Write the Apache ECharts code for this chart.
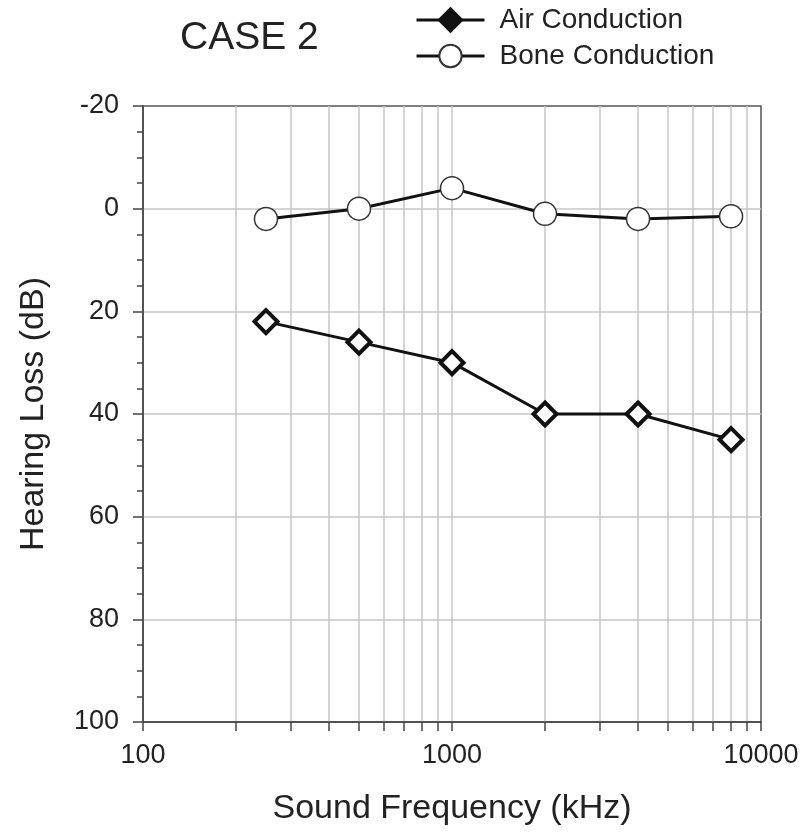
<!DOCTYPE html>
<html>
<head>
<meta charset="utf-8">
<script src="https://cdn.jsdelivr.net/npm/echarts@6/dist/echarts.min.js"></script>
<style>
  html, body { margin: 0; padding: 0; background: #fff; }
  #chart { width: 804px; height: 833px; }
</style>
</head>
<body>
<div id="chart"></div>
<script>
// dados
const frequencias = [250, 500, 1000, 2000, 4000, 8000];
const conducaoAerea = [22, 26, 30, 40, 40, 45];
const conducaoOssea = [2, 0, -4, 1, 2, 1.5];
const ticksX = [100, 200, 300, 400, 500, 600, 700, 800, 900, 1000,
    2000, 3000, 4000, 5000, 6000, 7000, 8000, 9000, 10000];
const rotulosX = [100, 1000, 10000];

const fonte = "'Liberation Sans', Arial, sans-serif";
const corTexto = "#222";

let grafico = echarts.init(document.getElementById("chart"));

let option = {
    backgroundColor: "#fff",
    animation: false,
    title: {
        text: "CASE 2",
        left: 180,
        top: 19,
        padding: 0,
        textStyle: { fontFamily: fonte, fontSize: 39, fontWeight: "normal", color: corTexto }
    },
    legend: {
        orient: "vertical",
        left: 415,
        top: 6,
        padding: 0,
        itemWidth: 68,
        itemHeight: 28,
        itemGap: 8,
        lineStyle: { width: 3, color: "#111" },
        textStyle: { fontFamily: fonte, fontSize: 28, color: corTexto, padding: [0, 0, 0, 10] },
        data: [
            { name: "Air Conduction", itemStyle: { color: "#111", borderColor: "#111", borderWidth: 3 } },
            { name: "Bone Conduction" }
        ]
    },
    grid: {
        left: 143,
        right: 43,
        top: 106,
        bottom: 111,
        show: true,
        borderColor: "#555",
        borderWidth: 1.5
    },
    xAxis: {
        type: "log",
        logBase: 10,
        min: 100,
        max: 10000,
        name: "Sound Frequency (kHz)",
        nameLocation: "middle",
        nameGap: 70,
        nameTextStyle: { fontFamily: fonte, fontSize: 34, color: corTexto },
        axisLine: { show: true, onZero: false, lineStyle: { color: "#444", width: 1.5 } },
        axisTick: { show: true, inside: false, length: 9, customValues: ticksX, lineStyle: { color: "#444", width: 1.5 } },
        axisLabel: {
            customValues: rotulosX,
            margin: 20,
            fontFamily: fonte,
            fontSize: 27,
            color: corTexto,
            formatter: v => String(v)
        },
        splitLine: { show: true, showMinLine: false, showMaxLine: false, lineStyle: { color: "#c6c6c6", width: 1.5 } }
    },
    yAxis: {
        type: "value",
        inverse: true,
        min: -20,
        max: 100,
        interval: 20,
        name: "Hearing Loss (dB)",
        nameLocation: "middle",
        nameGap: 92,
        nameTextStyle: { fontFamily: fonte, fontSize: 34, color: corTexto },
        axisLine: { show: true, lineStyle: { color: "#444", width: 1.5 } },
        axisTick: { show: true, length: 10, lineStyle: { color: "#444", width: 1.5 } },
        minorTick: { show: true, splitNumber: 4, length: 6, lineStyle: { color: "#444", width: 1.5 } },
        axisLabel: { margin: 24, fontFamily: fonte, fontSize: 27, color: corTexto },
        splitLine: { show: true, showMinLine: false, showMaxLine: false, lineStyle: { color: "#c6c6c6", width: 1.5 } }
    },
    series: [
        {
            name: "Air Conduction",
            type: "line",
            data: frequencias.map((f, i) => [f, conducaoAerea[i]]),
            symbol: "diamond",
            symbolSize: 23,
            itemStyle: { color: "#fff", borderColor: "#111", borderWidth: 4 },
            lineStyle: { color: "#111", width: 3 },
            z: 3
        },
        {
            name: "Bone Conduction",
            type: "line",
            data: frequencias.map((f, i) => [f, conducaoOssea[i]]),
            symbol: "circle",
            symbolSize: 23,
            itemStyle: { color: "#fff", borderColor: "#333", borderWidth: 1.5 },
            lineStyle: { color: "#111", width: 3 },
            z: 3
        }
    ]
};

grafico.setOption(option);
</script>
</body>
</html>
